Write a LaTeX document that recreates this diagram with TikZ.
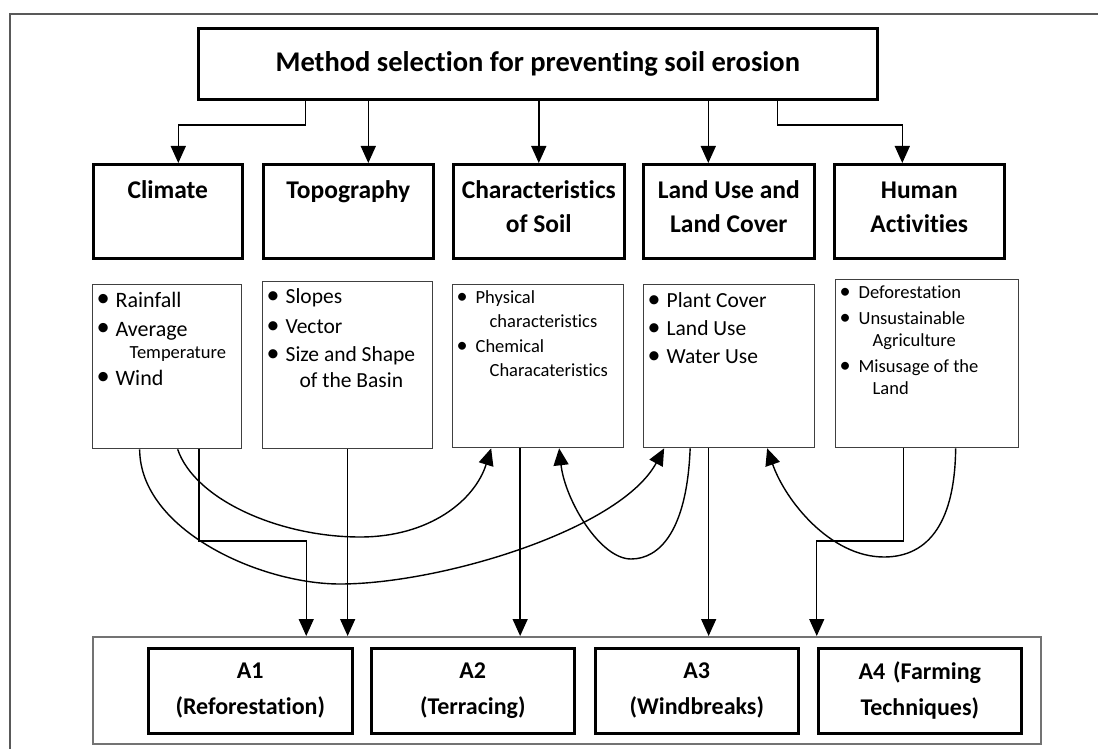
\documentclass[tikz,border=0pt]{standalone}
\usepackage{fontspec}
\setmainfont{Carlito}[Ligatures=NoCommon]
\usetikzlibrary{arrows.meta}

\tikzset{
  headbox/.style={draw, line width=2.6pt, anchor=north west, inner sep=0pt,
    font=\fontsize{25.5}{34}\selectfont\bfseries},
  listbox/.style={draw=black!75, line width=1.3pt, anchor=north west, inner sep=0pt},
  abox/.style={draw, line width=2.6pt, anchor=north west, inner sep=0pt, align=center,
    minimum height=85pt, font=\fontsize{24}{36}\selectfont\bfseries},
  arr/.style={line width=1.4pt, -{Triangle[length=17pt,width=15pt]}},
}
\newcommand{\headtext}[2]{\parbox[c][94pt][t]{#1}{\centering\rule{0pt}{34pt}#2}}
\newcommand{\bl}{\hspace*{4pt}\makebox[19pt][l]{\raisebox{0.03em}{\scalebox{1.2}{\textbullet}}}}
\newcommand{\cnt}{\hspace*{37pt}}

\begin{document}
\begin{tikzpicture}[x=1pt, y=-1pt]
\useasboundingbox (0,0) rectangle (1098,749);

% page frame
\draw[black!65, line width=1.5pt] (10,749) -- (10,14) -- (1098,14);

\node[draw, line width=2.6pt, anchor=north west, minimum width=679pt, minimum height=71pt,
  inner sep=0pt, font=\fontsize{28.5}{34}\selectfont\bfseries] (title) at (197,27)
  {Method selection for preventing soil erosion};

% factors
\node[headbox] (clim) at (92,163) {\headtext{149pt}{Climate}};
\node[headbox] (topo) at (262,163) {\headtext{170pt}{Topography}};
\node[headbox] (char) at (452,163) {\headtext{171pt}{Characteristics\\of Soil}};
\node[headbox] (land) at (642,163) {\headtext{171pt}{Land Use and\\Land Cover}};
\node[headbox] (hum) at (833,163) {\headtext{170pt}{Human\\Activities}};

\draw[arr] ([xshift=-232.5pt]title.south) |- ([xshift=10.5pt,yshift=38pt]clim.north) -- ([xshift=10.5pt]clim.north);
\draw[arr] ([xshift=20pt]topo.north |- title.south) -- ([xshift=20pt]topo.north);
\draw[arr] (char.north |- title.south) -- (char.north);
\draw[arr] ([xshift=-20.5pt]land.north |- title.south) -- ([xshift=-20.5pt]land.north);
\draw[arr] ([xshift=239.5pt]title.south) |- ([xshift=-17pt,yshift=38pt]hum.north) -- ([xshift=-17pt]hum.north);

% lists
\node[listbox] (climd) at (92,284) {\parbox[c][164pt][t]{149pt}{\raggedright
  \fontsize{22}{22}\selectfont\rule{0pt}{23pt}\bl Rainfall\\[7pt]
  \bl Average\\
  {\fontsize{18.5}{22}\selectfont\cnt Temperature}\\[5pt]
  \bl Wind}};
\node[listbox] (topd) at (262,281) {\parbox[c][167pt][t]{170pt}{\raggedright
  \fontsize{21.5}{28}\selectfont\rule{0pt}{22pt}\bl Slopes\\[2pt]
  \bl Vector\\
  \bl Size and Shape\\[-2pt]
  \cnt of the Basin}};
\node[listbox] (chard) at (452,284) {\parbox[c][163pt][t]{171pt}{\raggedright
  \fontsize{18.5}{24}\selectfont\rule{0pt}{19pt}\bl Physical\\
  \cnt characteristics\\[1pt]
  \bl Chemical\\
  \cnt Characateristics}};
\node[listbox] (landd) at (643,284) {\parbox[c][163pt][t]{171pt}{\raggedright
  \fontsize{21.5}{28}\selectfont\rule{0pt}{23pt}\bl Plant Cover\\
  \bl Land Use\\
  \bl Water Use}};
\node[listbox] (humd) at (835,279) {\parbox[c][168pt][t]{183pt}{\raggedright
  \fontsize{18.5}{22}\selectfont\rule{0pt}{19pt}\bl Deforestation\\[4pt]
  \bl Unsustainable\\
  \cnt Agriculture\\[4pt]
  \bl Misusage of the\\
  \cnt Land}};

% alternatives
\node[draw=black!55, line width=1.5pt, anchor=north west, minimum width=948pt,
  minimum height=107pt, inner sep=0pt] (outer) at (92,636) {};
\node[abox, text width=204pt] (a1) at (147,647) {A1\\(Reforestation)};
\node[abox, text width=203pt] (a2) at (370,647) {A2\\(Terracing)};
\node[abox, text width=203pt] (a3) at (594,647) {A3\\(Windbreaks)};
\node[abox, text width=203pt] (a4) at (817,647) {A4 (Farming\\Techniques)};

\draw[arr] ([xshift=32pt]climd.south) |- ([xshift=-260.5pt,yshift=95pt]outer.north) -- ([xshift=-260.5pt]outer.north);
\draw[arr] (topd.south) -- (topd.south |- outer.north);
\draw[arr] ([xshift=-18pt]chard.south) -- ([xshift=-18pt]chard.south |- outer.north);
\draw[arr] ([xshift=-20.5pt]landd.south) -- ([xshift=-20.5pt]landd.south |- outer.north);
\draw[arr] ([xshift=-23.5pt]humd.south) |- ([xshift=250pt,yshift=95pt]outer.north) -- ([xshift=250pt]outer.north);

\draw[arr] ([xshift=10.5pt]climd.south) .. controls (195,500) and (280,537) .. (360,537)
  .. controls (430,537) and (475,500) .. ([xshift=-47pt]chard.south);
\draw[arr] ([xshift=-27.5pt]climd.south) .. controls (140,530) and (260,584) .. (340,584)
  .. controls (440,584) and (620,530) .. ([xshift=-65pt]landd.south);
\draw[arr] ([xshift=-39pt]landd.south) .. controls (687,530) and (660,559) .. (631,559)
  .. controls (600,559) and (565,500) .. ([xshift=21pt]chard.south);
\draw[arr] ([xshift=28.5pt]humd.south) .. controls (955,520) and (930,557) .. (884,557)
  .. controls (830,557) and (785,500) .. ([xshift=38pt]landd.south);

\end{tikzpicture}
\end{document}
